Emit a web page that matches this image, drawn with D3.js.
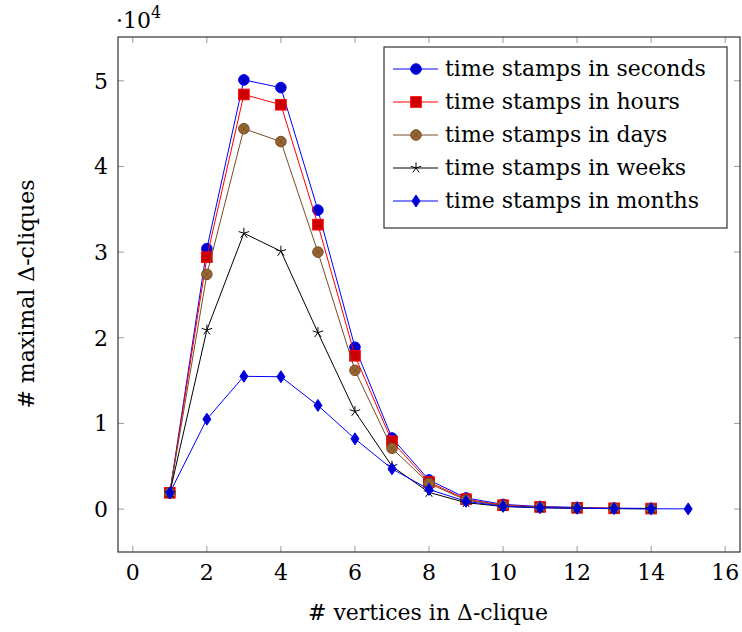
<!DOCTYPE html>
<html>
<head>
<meta charset="utf-8">
<script src="https://cdn.jsdelivr.net/npm/d3@7"></script>
<style>
  body { margin: 0; background: #fff; }
  text { font-family: "DejaVu Serif", serif; fill: #000; }
</style>
</head>
<body>
<div id="chart"></div>
<script>
// data
const xs = [1, 2, 3, 4, 5, 6, 7, 8, 9, 10, 11, 12, 13, 14, 15];
const seconds = [1900, 30400, 50100, 49200, 34900, 18900, 8300, 3400, 1300, 550, 300, 200, 100, 80];
const hours   = [1900, 29400, 48400, 47200, 33200, 17900, 7900, 3150, 1150, 450, 250, 150, 90, 60];
const days    = [1900, 27400, 44400, 42900, 30000, 16200, 7100, 3000, 1050, 400, 220, 130, 80, 50];
const weeks   = [1900, 20900, 32200, 30100, 20600, 11400, 5000, 1950, 750, 300, 150, 90, 50, 30];
const months  = [1900, 10500, 15500, 15450, 12100, 8200, 4700, 2300, 900, 320, 160, 100, 60, 40, 20];

const seriesNames = ["time stamps in seconds", "time stamps in hours", "time stamps in days",
                     "time stamps in weeks", "time stamps in months"];
const xTicks = [0, 2, 4, 6, 8, 10, 12, 14, 16];
const yTicks = [0, 10000, 20000, 30000, 40000, 50000];

const series = [
  { name: seriesNames[0], values: seconds, stroke: "#0000ff", fill: "#0000cc", mark: "circle" },
  { name: seriesNames[1], values: hours,   stroke: "#ff0000", fill: "#cc0000", mark: "square" },
  { name: seriesNames[2], values: days,    stroke: "#734d26", fill: "#996633", mark: "otimes" },
  { name: seriesNames[3], values: weeks,   stroke: "#000000", fill: "none",    mark: "star" },
  { name: seriesNames[4], values: months,  stroke: "#0000ff", fill: "#0000cc", mark: "diamond" }
];

const W = 742, H = 632;
const plot = { left: 118, right: 740, top: 37, bottom: 552 };
const fs = 22;

const svg = d3.select("#chart").append("svg")
  .attr("width", W).attr("height", H);

const x = d3.scaleLinear().domain([-0.4, 16.4]).range([plot.left, plot.right]);
const y = d3.scaleLinear().domain([-5010, 55110]).range([plot.bottom, plot.top]);

// ticks (inward, mirrored on the opposite side)
const tickLen = 6;
const tickG = svg.append("g").attr("stroke", "#9a9a9a").attr("stroke-width", 1);
xTicks.forEach(t => {
  tickG.append("line").attr("x1", x(t)).attr("x2", x(t)).attr("y1", plot.bottom).attr("y2", plot.bottom - tickLen);
  tickG.append("line").attr("x1", x(t)).attr("x2", x(t)).attr("y1", plot.top).attr("y2", plot.top + tickLen);
});
yTicks.forEach(t => {
  tickG.append("line").attr("y1", y(t)).attr("y2", y(t)).attr("x1", plot.left).attr("x2", plot.left + tickLen);
  tickG.append("line").attr("y1", y(t)).attr("y2", y(t)).attr("x1", plot.right).attr("x2", plot.right - tickLen);
});

// tick labels
svg.append("g").selectAll("text").data(xTicks).enter().append("text")
  .attr("x", d => x(d)).attr("y", 580)
  .attr("text-anchor", "middle").attr("font-size", fs)
  .text(d => d);
svg.append("g").selectAll("text").data(yTicks).enter().append("text")
  .attr("x", plot.left - 10).attr("y", d => y(d) + 8)
  .attr("text-anchor", "end").attr("font-size", fs)
  .text(d => d / 10000);

// ·10^4 multiplier
const mult = svg.append("text").attr("x", 116).attr("y", 28).attr("font-size", fs);
mult.append("tspan").text("·10");
mult.append("tspan").attr("dy", -10).attr("font-size", 16).text("4");

// axis labels
svg.append("text").attr("x", 428).attr("y", 620)
  .attr("text-anchor", "middle").attr("font-size", fs)
  .text("# vertices in Δ-clique");
svg.append("text")
  .attr("transform", "translate(34, 294) rotate(-90)")
  .attr("text-anchor", "middle").attr("font-size", fs)
  .text("# maximal Δ-cliques");

// marks
function drawMark(g, s, cx, cy) {
  if (s.mark === "circle") {
    g.append("circle").attr("cx", cx).attr("cy", cy).attr("r", 5.3)
      .attr("fill", s.fill).attr("stroke", s.stroke).attr("stroke-width", 1);
  } else if (s.mark === "square") {
    g.append("rect").attr("x", cx - 5.3).attr("y", cy - 5.3).attr("width", 10.6).attr("height", 10.6)
      .attr("fill", s.fill).attr("stroke", s.stroke).attr("stroke-width", 1);
  } else if (s.mark === "otimes") {
    g.append("circle").attr("cx", cx).attr("cy", cy).attr("r", 5.3)
      .attr("fill", s.fill).attr("stroke", s.stroke).attr("stroke-width", 1);
    const d = 3.7;
    g.append("path").attr("d", `M${cx - d},${cy - d}L${cx + d},${cy + d}M${cx - d},${cy + d}L${cx + d},${cy - d}`)
      .attr("stroke", s.stroke).attr("stroke-width", 0.8);
  } else if (s.mark === "star") {
    let p = "";
    for (let k = 0; k < 5; k++) {
      const a = -Math.PI / 2 + k * 2 * Math.PI / 5;
      p += `M${cx},${cy}L${cx + 5.5 * Math.cos(a)},${cy + 5.5 * Math.sin(a)}`;
    }
    g.append("path").attr("d", p).attr("stroke", s.stroke).attr("stroke-width", 1).attr("fill", "none");
  } else if (s.mark === "diamond") {
    g.append("path").attr("d", `M${cx},${cy - 6}L${cx + 4},${cy}L${cx},${cy + 6}L${cx - 4},${cy}Z`)
      .attr("fill", s.fill).attr("stroke", s.stroke).attr("stroke-width", 1);
  }
}

const line = d3.line().x((d, i) => x(xs[i])).y(d => y(d));
series.forEach(s => {
  const g = svg.append("g");
  g.append("path").datum(s.values).attr("d", line)
    .attr("fill", "none").attr("stroke", s.stroke).attr("stroke-width", 1);
  s.values.forEach((v, i) => drawMark(g, s, x(xs[i]), y(v)));
});

// frame
svg.append("rect").attr("x", plot.left).attr("y", plot.top)
  .attr("width", plot.right - plot.left).attr("height", plot.bottom - plot.top)
  .attr("fill", "none").attr("stroke", "#333").attr("stroke-width", 1.2);

// legend
const lg = svg.append("g");
lg.append("rect").attr("x", 384).attr("y", 47).attr("width", 343).attr("height", 181)
  .attr("fill", "#fff").attr("stroke", "#333").attr("stroke-width", 1.2);
series.forEach((s, i) => {
  const cy = 69 + i * 33;
  lg.append("line").attr("x1", 393).attr("x2", 438).attr("y1", cy).attr("y2", cy)
    .attr("stroke", s.stroke).attr("stroke-width", 1);
  drawMark(lg, s, 416, cy);
  lg.append("text").attr("x", 445).attr("y", cy + 7).attr("font-size", fs).text(s.name);
});
</script>
</body>
</html>
